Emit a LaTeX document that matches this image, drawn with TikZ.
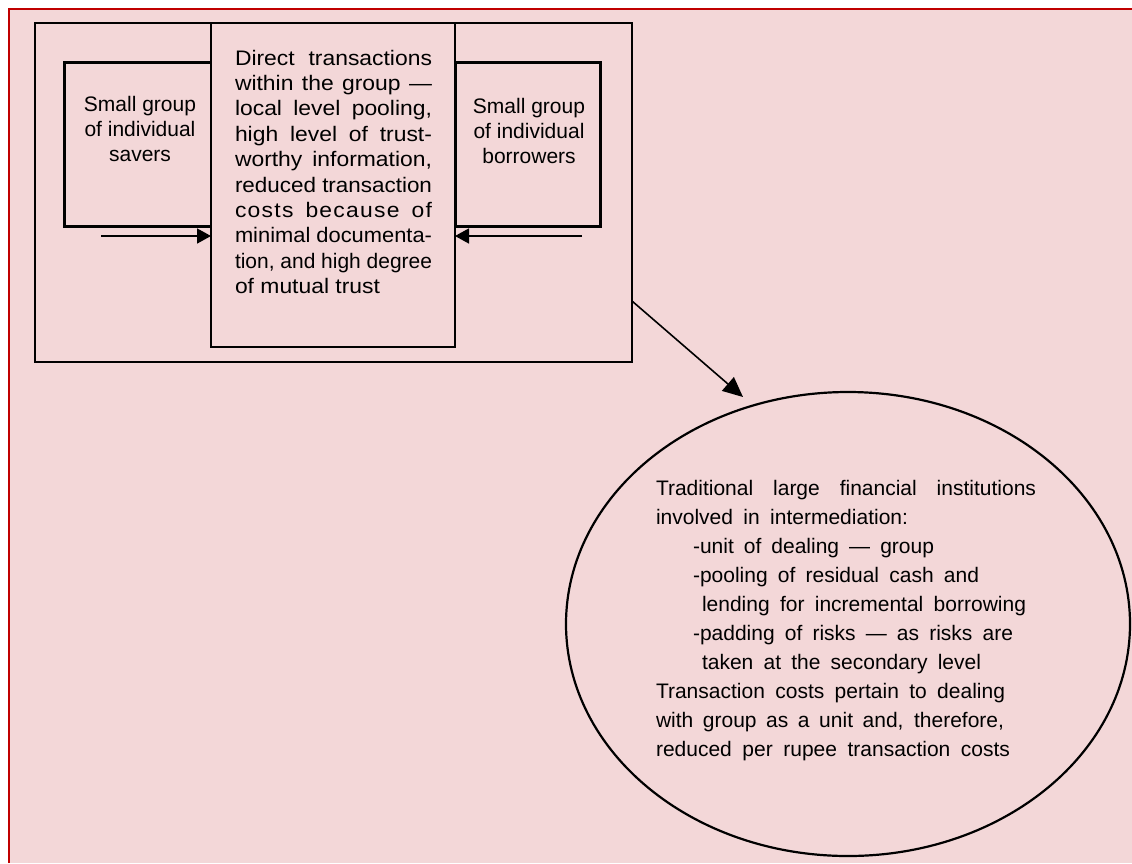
\documentclass[tikz,border=0pt]{standalone}
\usepackage{fontspec}
\usepackage{graphicx}
\setmainfont{Liberation Sans}
\newfontfamily\centfont[FakeStretch=1.09]{Liberation Sans}
\usetikzlibrary{arrows.meta,shapes.geometric}
\definecolor{bgpink}{RGB}{243,215,216}
\definecolor{framered}{RGB}{192,0,0}
\newlength\jlen
\newcommand\jline[2]{\settowidth{\jlen}{#2}\ifdim\jlen>#1\relax\resizebox{#1}{\height}{#2}\else\makebox[#1][s]{#2}\fi}
\begin{document}
\begin{tikzpicture}[x=1pt,y=-1pt,
  boxst/.style={draw=black, inner sep=0pt, outer sep=0pt, anchor=north west},
  boxtext/.style={inner sep=0pt, outer sep=0pt, font=\fontsize{21pt}{25.4pt}\selectfont},
  elltext/.style={inner sep=0pt, outer sep=0pt, font=\fontsize{21pt}{29pt}\selectfont},
  sidearrow/.style={draw=black, line width=1.6pt, -{Triangle[length=14pt,width=15pt]}},
  diagarrow/.style={draw=black, line width=1.6pt, -{Triangle[length=20pt,width=18pt]}}]
\useasboundingbox (0,0) rectangle (1132,863);
\fill[white] (0,0) rectangle (1132,863);
\fill[bgpink] (9,9) rectangle (1132,863);
\draw[framered, line width=2.5pt] (9,863) -- (9,9) -- (1132,9);

% group frame
\node[boxst, line width=2.8pt, minimum width=597pt, minimum height=339pt] (group) at (35,23) {};
% side boxes
\node[boxst, line width=3pt, minimum width=147pt, minimum height=164pt] (savers) at (64,62) {};
\node[boxst, line width=3pt, minimum width=145pt, minimum height=164pt] (borrowers) at (455,62) {};
% central box
\node[boxst, line width=2.2pt, fill=bgpink, minimum width=244pt, minimum height=324pt] (central) at (211,23) {};

% texts
\node[boxtext, anchor=base] (savtext) at (140,111) {\parbox[t]{150pt}{\centering Small group\\ of individual\\ savers}};
\node[boxtext, anchor=base] (bortext) at (529,113) {\parbox[t]{150pt}{\centering Small group\\ of individual\\ borrowers}};
\node[boxtext, anchor=base west] (centtext) at (235,65) {\parbox[t]{210pt}{\centfont\raggedright
\jline{197pt}{Direct transactions}\\
\jline{197pt}{within the group —}\\
\jline{197pt}{local level pooling,}\\
\jline{197pt}{high level of trust-}\\
\jline{197pt}{worthy information,}\\
\jline{197pt}{reduced transaction}\\
\jline{197pt}{\addfontfeature{LetterSpace=6}costs because of}\\
\jline{197pt}{minimal documenta-}\\
\jline{197pt}{tion, and high degree}\\
of mutual trust}};

% side arrows
\coordinate (la) at (101,236);
\coordinate (ra) at (582,236);
\draw[sidearrow] (la) -- (la -| central.west);
\draw[sidearrow] (ra) -- (ra -| central.east);

% ellipse
\node[draw=black, line width=2.2pt, ellipse, inner sep=0pt, minimum width=564pt, minimum height=464pt] (inst) at (848,624) {};
\node[elltext, anchor=base west] (insttext) at (656,495) {\parbox[t]{400pt}{\raggedright
\jline{380pt}{Traditional large financial institutions}\\
\jline{252pt}{involved in intermediation:}\\
\hspace*{37pt}\jline{241pt}{-unit of dealing — group}\\
\hspace*{37pt}\jline{286pt}{-pooling of residual cash and}\\
\hspace*{46pt}\jline{324pt}{lending for incremental borrowing}\\
\hspace*{37pt}\jline{320pt}{-padding of risks — as risks are}\\
\hspace*{46pt}\jline{279pt}{taken at the secondary level}\\
\jline{349pt}{Transaction costs pertain to dealing}\\
\jline{348pt}{with group as a unit and, therefore,}\\
\jline{354pt}{reduced per rupee transaction costs}}};

% diagonal connector
\coordinate (dstart) at (632,301);
\coordinate (dtip) at (743,397);
\draw[diagarrow] (dstart) -- (dtip);
\end{tikzpicture}
\end{document}
